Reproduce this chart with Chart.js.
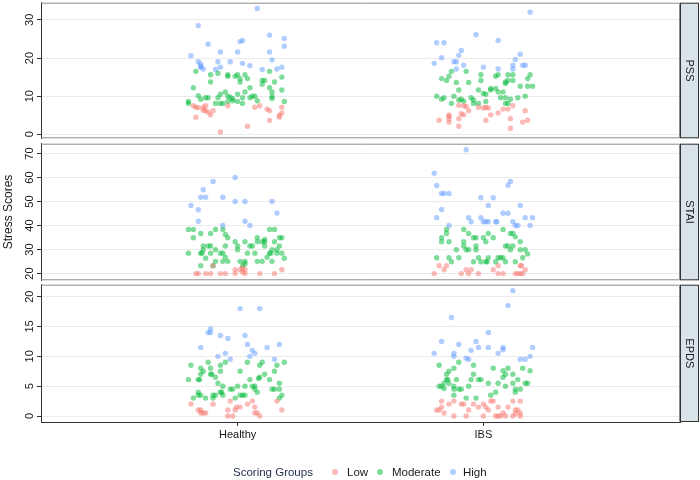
<!DOCTYPE html>
<html>
<head>
<meta charset="utf-8">
<script src="https://cdn.jsdelivr.net/npm/chart.js@4.4.1/dist/chart.umd.min.js"></script>
<style>
  html, body { margin: 0; padding: 0; background: #ffffff; }
  #wrap { position: relative; width: 700px; height: 480px; overflow: hidden; font-family: "Liberation Sans", Arial, sans-serif; }
  canvas { position: absolute; left: 0; }
  .lg { position: absolute; font-size: 11.5px; line-height: 14px; white-space: nowrap; color: #1a1a1a; }
  .dot { position: absolute; width: 6px; height: 6px; border-radius: 50%; }
</style>
</head>
<body>
<div id="wrap">
  <canvas id="c1" width="700" height="141" style="top:0px"></canvas>
  <canvas id="c2" width="700" height="142" style="top:141px"></canvas>
  <canvas id="c3" width="700" height="198" style="top:282px"></canvas>
  <div class="lg" style="left:233px; top:465px; color:#24304f;">Scoring Groups</div>
  <div class="dot" style="left:332px; top:469px; background:rgba(248,118,109,0.5)"></div>
  <div class="lg" style="left:347px; top:465px;">Low</div>
  <div class="dot" style="left:377px; top:469px; background:rgba(0,186,56,0.5)"></div>
  <div class="lg" style="left:392px; top:465px;">Moderate</div>
  <div class="dot" style="left:450px; top:469px; background:rgba(97,156,255,0.5)"></div>
  <div class="lg" style="left:463px; top:465px;">High</div>
</div>
<script>
// ---------- data ----------
const categories = ['Healthy', 'IBS'];
const groups = ['Low', 'Moderate', 'High'];
const panelNames = ['PSS', 'STAI', 'EPDS'];
const pssTicks = [0, 10, 20, 30];
const staiTicks = [20, 30, 40, 50, 60, 70];
const epdsTicks = [0, 5, 10, 15, 20];

// each point: [jitter offset from category, score]
const pssHealthyHigh = [[0.08,33.0],[-0.16,28.5],[0.19,25.1],[0.13,26.0],[0.19,23.1],[-0.12,23.6],[0.01,24.3],[0.02,24.6],[-0.19,20.6],[-0.07,21.6],[0,21.6],[0.13,21.6],[-0.16,19.0],[-0.15,18.4],[-0.15,17.8],[-0.15,17.6],[-0.14,17.1],[-0.08,19.0],[-0.03,19.0],[-0.07,17.6],[-0.09,17.0],[0.02,18.6],[0.05,18.0],[0.10,17.0],[0.14,19.5],[0.16,17.1],[0.18,17.6]];
const pssHealthyModerate = [[-0.17,16.5],[0.13,16.5],[-0.11,15.6],[-0.08,16.0],[-0.04,15.6],[-0.04,15.2],[0,15.6],[-0.01,15.2],[0.03,15.6],[0.04,14.6],[0.01,14.6],[0.01,13.7],[0.18,15.0],[-0.11,13.7],[0.10,14.1],[0.11,14.1],[0.10,13.1],[0.15,13.7],[-0.18,12.2],[0.13,12.2],[0.05,12.2],[0.14,11.1],[-0.05,11.1],[0.03,11.1],[0.18,11.6],[-0.07,10.5],[-0.16,10.1],[-0.04,10.0],[-0.03,9.7],[0.07,10.0],[0.06,10.0],[0,10.5],[0.14,9.9],[0.14,9.4],[-0.15,9.2],[-0.13,9.6],[-0.12,9.6],[-0.08,9.6],[-0.02,9.3],[0.02,9.6],[0.05,9.6],[0.08,8.8],[-0.20,8.6],[-0.20,8.1],[-0.09,8.1],[-0.07,8.1],[-0.06,8.1],[-0.04,8.6],[-0.02,8.8],[0,8.6],[0.02,8.1],[0.19,8.6]];
const pssHealthyLow = [[-0.18,7.5],[-0.17,7.1],[-0.16,7.0],[-0.13,7.5],[-0.14,7.1],[-0.14,6.3],[-0.13,6.2],[-0.10,6.2],[-0.12,5.8],[-0.11,5.1],[-0.17,4.5],[-0.04,7.5],[0.07,7.1],[0.09,7.5],[0.12,6.6],[0.13,6.2],[0.18,7.1],[0.18,5.6],[0.17,5.0],[0.17,4.5],[0.13,3.6],[0.04,2.1],[-0.07,0.6]];
const pssIbsHigh = [[0.19,32.0],[-0.03,26.1],[-0.19,24.0],[-0.16,24.0],[0.06,24.6],[-0.09,22.0],[0.15,21.0],[-0.17,20.1],[-0.10,20.7],[0.13,19.6],[-0.20,18.6],[-0.12,19.0],[-0.11,19.0],[-0.08,18.1],[0.12,18.1],[0.16,18.1],[0.17,18.1],[-0.11,17.1],[0,17.6],[0.06,17.1],[0.12,17.1]];
const pssIbsModerate = [[-0.13,16.5],[-0.07,16.5],[-0.17,14.6],[-0.15,14.1],[-0.14,15.2],[-0.11,13.6],[-0.06,13.6],[-0.01,15.6],[-0.01,14.1],[0.05,15.2],[0.06,15.6],[0.10,15.6],[0.12,15.6],[0.12,14.1],[0.09,13.7],[0.10,14.1],[0.09,13.3],[0.19,15.6],[0.18,14.6],[0.15,12.6],[0.18,12.6],[0.20,12.6],[-0.10,11.6],[-0.02,11.6],[0,10.7],[0.03,11.6],[0.03,12.0],[0.05,12.0],[0.06,11.1],[0.08,11.1],[0.01,10.5],[-0.19,10.0],[-0.16,9.6],[-0.17,9.2],[-0.12,10.0],[-0.05,9.6],[-0.10,9.0],[-0.09,9.2],[-0.08,8.7],[-0.13,8.1],[-0.04,9.0],[-0.04,8.1],[0.01,8.6],[0.07,9.6],[0.09,9.6],[0.11,9.2],[0.14,9.6],[0.17,10.0],[0.09,8.1],[0.10,8.1],[-0.02,8.1]];
const pssIbsLow = [[-0.10,7.6],[-0.08,7.5],[-0.07,7.3],[-0.06,6.2],[-0.02,7.1],[0,6.9],[0.01,7.1],[0.02,6.9],[0.08,6.6],[0.10,6.6],[0.12,7.5],[0.17,6.2],[-0.14,5.1],[-0.14,4.7],[-0.14,4.1],[-0.09,5.4],[-0.08,5.1],[-0.10,4.1],[0.03,5.1],[0.06,5.6],[-0.18,3.7],[-0.14,3.2],[0.01,3.7],[0.11,4.1],[0.16,3.2],[0.18,3.7],[-0.10,2.1],[0.11,1.6]];

const staiHealthyHigh = [[-0.01,60.0],[-0.10,58.4],[-0.14,54.9],[-0.15,51.8],[-0.13,51.8],[-0.06,51.8],[-0.19,48.4],[-0.16,46.6],[-0.01,50.0],[0.03,50.0],[0.14,50.0],[0.16,45.2],[-0.16,41.8],[0.03,41.8],[0.05,40.0],[-0.06,40.0]];
const staiHealthyModerate = [[-0.20,38.4],[-0.18,38.4],[-0.09,38.4],[-0.06,38.4],[0.13,38.4],[0.15,38.4],[-0.15,36.7],[-0.11,36.7],[-0.05,36.3],[-0.04,34.9],[-0.18,34.9],[0.08,34.9],[0.11,34.2],[0.17,34.9],[0.18,34.9],[-0.01,33.3],[0.03,33.3],[0.10,33.3],[0.11,33.3],[0.08,33.3],[0.15,33.3],[0.11,31.5],[0.05,31.5],[0.06,31.5],[0,31.5],[-0.12,31.5],[-0.11,31.5],[-0.14,31.5],[-0.05,31.5],[0.17,31.5],[-0.14,29.9],[-0.09,29.9],[0,29.9],[0.14,29.9],[0.16,29.9],[-0.15,28.5],[-0.20,28.5],[-0.145,28.5],[-0.11,28.5],[-0.07,28.5],[-0.06,28.5],[0.04,28.5],[0.07,28.5],[0.13,28.5],[0.135,28.5],[0.16,28.5],[0.18,28.5],[-0.13,26.4],[-0.05,26.8],[0.12,26.8],[0.19,26.4],[-0.09,25.1],[-0.06,25.1],[-0.04,25.1],[0.01,25.1],[0.03,25.1],[0.08,25.1],[0.10,25.1],[0.14,25.1],[-0.15,23.3],[-0.10,23.3],[0.02,23.3],[0.03,24.1]];
const staiHealthyLow = [[-0.10,23.3],[-0.01,21.6],[0.01,21.6],[0.03,21.6],[0.18,21.6],[0.02,22.3],[-0.17,20],[-0.16,20],[-0.13,20],[-0.11,20],[-0.07,20],[-0.05,20],[-0.01,20],[0.03,20],[0.09,20],[0.15,20],[0.02,20.7]];
const staiIbsHigh = [[-0.07,71.6],[-0.20,61.8],[-0.19,56.7],[-0.17,53.4],[-0.16,53.4],[-0.14,53.4],[0.10,56.8],[0.11,58.4],[-0.01,51.6],[0.04,51.6],[0.02,48.4],[0.15,48.4],[-0.17,46.7],[0.08,45.1],[0.10,45.1],[-0.19,43.3],[-0.06,43.3],[-0.01,43.3],[-0.05,41.6],[0,41.6],[0.01,41.6],[0.02,41.6],[0.05,41.6],[0.055,41.6],[0.12,41.6],[0.17,43.3],[0.20,43.3],[0.13,40.0],[0.14,40.0],[0.19,40.0],[-0.14,40.0]];
const staiIbsModerate = [[-0.15,38.4],[-0.08,38.4],[0.08,38.4],[-0.15,36.7],[-0.06,36.7],[0.02,36.7],[0.11,36.7],[0.12,36.7],[0.13,35.3],[-0.17,34.9],[-0.04,34.9],[-0.03,34.9],[0,34.9],[0.04,34.9],[-0.17,33.3],[-0.14,33.3],[-0.08,33.3],[0.01,33.3],[0.15,33.3],[-0.08,31.5],[-0.03,31.5],[0.09,31.5],[0.10,31.5],[0.12,31.5],[-0.11,29.9],[-0.07,29.9],[-0.06,29.9],[-0.03,29.9],[0.11,29.9],[0.15,29.9],[0.17,29.9],[0.18,28.2],[-0.19,26.6],[-0.14,26.6],[-0.10,26.6],[-0.02,26.6],[0.02,26.6],[0.06,26.6],[0.07,26.6],[0.08,26.6],[0.16,26.6],[-0.13,24.9],[-0.04,24.9],[-0.01,24.9],[0.01,24.9],[0.015,24.9],[0.05,24.9],[0.09,24.9],[0.13,24.9]];
const staiIbsLow = [[-0.18,23.3],[-0.15,23.3],[-0.16,21.6],[-0.07,21.6],[-0.05,21.6],[0.04,21.6],[0.06,23.3],[0.15,23.3],[0.155,23.3],[0.17,21.6],[-0.20,20],[-0.09,20],[-0.06,20],[-0.02,20],[0.06,20],[0.08,20],[0.13,20],[0.14,20],[0.15,20],[0.16,20]];

const epdsHealthyHigh = [[0.01,18.0],[0.09,18.0],[-0.11,14.6],[-0.12,14.0],[-0.11,14.0],[-0.07,13.5],[0.03,13.5],[-0.04,13.0],[0.04,12.0],[0.17,12.0],[-0.15,11.5],[0.12,11.5],[0.06,11.0],[-0.05,10.5],[0.07,10.5],[-0.08,10.0],[0.05,10.0],[-0.03,9.5],[0.15,9.5]];
const epdsHealthyModerate = [[-0.19,8.5],[-0.12,9.0],[-0.05,9.0],[0.04,9.0],[0.10,9.0],[0.19,9.0],[-0.07,8.5],[0.09,8.5],[0.16,8.5],[-0.15,8.0],[-0.11,8.0],[0.01,7.5],[0.15,7.5],[-0.14,7.5],[-0.15,7.0],[-0.11,7.0],[-0.105,7.0],[-0.07,7.5],[0.11,7.0],[-0.09,6.5],[0.09,6.5],[0.085,6.3],[-0.20,6.1],[-0.16,6.1],[-0.155,6.1],[0.05,6.1],[0.13,6.1],[-0.08,5.5],[0.17,5.5],[-0.06,5.0],[0,5.0],[0.03,5.0],[0.06,5.0],[0.07,5.0],[-0.03,4.5],[-0.02,4.5],[0.07,4.5],[0.14,4.5],[0.15,4.5],[0.17,4.5],[-0.16,4.0],[-0.07,4.0],[-0.065,4.0],[0.08,4.0],[-0.16,3.5],[-0.15,3.5],[-0.10,3.5],[-0.09,3.5],[0.01,3.5],[0.02,3.5],[0.03,3.5],[0.18,3.5],[-0.18,3.0],[-0.13,3.0],[-0.10,3.0],[-0.01,3.0],[0.17,3.0],[-0.06,3.5]];
const epdsHealthyLow = [[-0.19,2.0],[-0.10,2.0],[0.04,2.0],[0.06,2.5],[0.16,2.5],[-0.03,2.5],[0.07,1.5],[-0.16,1.0],[-0.15,1.0],[-0.04,1.0],[-0.01,1.0],[-0.005,1.5],[0.01,1.5],[0.18,1.0],[-0.15,0.5],[-0.14,0.5],[-0.13,0.5],[0.07,0.5],[0.08,0.5],[-0.04,0],[-0.02,0],[0.09,0]];
const epdsIbsHigh = [[0.12,21.0],[0.10,18.5],[-0.13,16.5],[0.02,14.0],[-0.17,12.5],[-0.03,12.5],[-0.10,12.0],[-0.02,11.5],[0.02,11.5],[0.08,11.5],[0.08,11.1],[0.20,11.5],[-0.05,11.0],[-0.20,10.5],[-0.12,10.5],[-0.12,10.0],[0.06,10.5],[0.19,10.0],[0.15,9.5],[0.17,9.5],[-0.06,9.5],[-0.07,9.7]];
const epdsIbsModerate = [[-0.10,9.0],[-0.18,8.5],[-0.12,8.0],[-0.04,8.5],[0.04,8.0],[0.10,8.0],[0.08,7.6],[0.16,8.0],[0.19,7.6],[-0.14,7.5],[-0.15,7.0],[0.09,7.0],[-0.04,7.0],[0.08,6.5],[0.12,7.0],[-0.15,6.1],[-0.145,6.1],[-0.11,6.1],[-0.05,6.1],[-0.02,6.1],[-0.01,6.1],[0.14,6.1],[-0.14,5.5],[-0.16,5.5],[0.02,5.5],[0.06,5.5],[0.12,5.5],[0.17,5.5],[0.18,5.5],[-0.18,5.0],[-0.17,5.0],[-0.12,5.0],[-0.06,5.0],[0.09,5.0],[-0.16,4.6],[-0.12,4.5],[-0.10,4.5],[-0.09,4.5],[0.13,4.5],[0.15,4.5],[0.13,4.0],[0.05,4.0],[-0.12,3.5],[0.03,3.5],[-0.07,3.0],[-0.03,3.0]];
const epdsIbsLow = [[-0.17,2.5],[-0.12,2.5],[0.03,2.5],[0.04,2.5],[0.12,2.5],[0.15,2.5],[-0.14,2.0],[-0.09,2.0],[-0.08,2.0],[-0.04,2.0],[0,2.0],[-0.02,1.5],[0.01,1.5],[0.06,1.5],[0.10,1.5],[-0.17,1.5],[-0.19,1.0],[-0.18,1.0],[-0.06,1.0],[0.02,1.0],[0.08,0.5],[-0.16,0.5],[0.13,1.0],[0.14,1.0],[0.15,0.5],[-0.12,0],[-0.07,0],[0,0],[0.05,0],[0.06,0],[0.07,0],[0.09,0],[0.12,0],[0.15,0],[0.13,0.4]];

// ---------- styles ----------
const groupColors = ['rgba(248,118,109,0.5)', 'rgba(0,186,56,0.5)', 'rgba(97,156,255,0.5)'];
const FONT = '"Liberation Sans", Arial, sans-serif';

function buildDatasets(healthy, ibs) {
  return groups.map((g, gi) => ({
    label: g,
    data: [
      ...healthy[gi].map(p => ({ x: 1 + p[0], y: p[1] })),
      ...ibs[gi].map(p => ({ x: 2 + p[0], y: p[1] }))
    ],
    backgroundColor: groupColors[gi],
    borderWidth: 0,
    pointRadius: 2.7,
    pointHoverRadius: 2.7
  }));
}

const panelDecor = {
  id: 'panelDecor',
  afterDraw(chart, args, o) {
    const { ctx, chartArea: a } = chart;
    ctx.save();
    ctx.strokeStyle = '#8c8c8c';
    ctx.lineWidth = 1;
    ctx.beginPath();
    ctx.moveTo(a.left, a.top + 0.5);
    ctx.lineTo(a.right - 0.5, a.top + 0.5);
    ctx.lineTo(a.right - 0.5, a.bottom - 0.5);
    if (!o.xAxis) ctx.lineTo(a.left, a.bottom - 0.5);
    ctx.stroke();
    const sx = a.right, sw = 19;
    ctx.fillStyle = '#d9e3ea';
    ctx.fillRect(sx, a.top, sw, a.bottom - a.top);
    ctx.strokeStyle = '#333333';
    ctx.strokeRect(sx + 0.5, a.top + 0.5, sw - 1, a.bottom - a.top - 1);
    ctx.fillStyle = '#1a1a1a';
    ctx.font = '11px ' + FONT;
    ctx.textAlign = 'center';
    ctx.textBaseline = 'middle';
    ctx.translate(sx + sw / 2, (a.top + a.bottom) / 2);
    ctx.rotate(Math.PI / 2);
    ctx.fillText(o.label, 0, 0);
    ctx.restore();
  }
};

function makeChart(id, datasets, cfg) {
  return new Chart(document.getElementById(id), {
    type: 'scatter',
    data: { datasets },
    plugins: [panelDecor],
    options: {
      responsive: false,
      animation: false,
      devicePixelRatio: 1,
      events: [],
      layout: { padding: cfg.padding },
      plugins: {
        legend: { display: false },
        tooltip: { enabled: false },
        panelDecor: { label: cfg.label, xAxis: cfg.xAxis }
      },
      scales: {
        x: {
          type: 'linear',
          min: 0.2,
          max: 2.8,
          display: cfg.xAxis,
          afterBuildTicks: s => { s.ticks = categories.map((c, i) => ({ value: i + 1 })); },
          afterFit: s => {
            s.height = cfg.xAxis ? 20 : 0;
            s.paddingLeft = 0; s.paddingRight = 0; s.paddingTop = 0; s.paddingBottom = 0;
          },
          grid: { drawOnChartArea: false, drawTicks: true, tickLength: 4, tickColor: '#333333' },
          border: { display: true, color: '#333333', width: 1 },
          ticks: {
            autoSkip: false,
            maxRotation: 0,
            padding: 2,
            color: '#1a1a1a',
            font: { family: FONT, size: 11 },
            callback: v => categories[Math.round(v) - 1]
          }
        },
        y: {
          type: 'linear',
          min: cfg.min,
          max: cfg.max,
          afterBuildTicks: s => { s.ticks = cfg.ticks.map(v => ({ value: v })); },
          afterFit: s => {
            s.width = 41;
            s.paddingTop = 0; s.paddingBottom = 0; s.paddingLeft = 0; s.paddingRight = 0;
          },
          grid: { color: '#ebebeb', lineWidth: 1, drawTicks: true, tickLength: 4, tickColor: '#333333' },
          border: { display: true, color: '#333333', width: 1 },
          title: {
            display: !!cfg.title,
            text: cfg.title || '',
            color: '#1a1a1a',
            font: { family: FONT, size: 12 },
            padding: { top: 1, bottom: 0 }
          },
          ticks: {
            autoSkip: false,
            minRotation: 90,
            maxRotation: 90,
            crossAlign: 'center',
            padding: 1,
            color: '#1a1a1a',
            font: { family: FONT, size: 11 }
          }
        }
      }
    }
  });
}

makeChart('c1',
  buildDatasets([pssHealthyLow, pssHealthyModerate, pssHealthyHigh], [pssIbsLow, pssIbsModerate, pssIbsHigh]),
  { label: panelNames[0], ticks: pssTicks, min: -1.05, max: 34.5, xAxis: false,
    padding: { top: 1, right: 20, bottom: 2, left: 0 } });

makeChart('c2',
  buildDatasets([staiHealthyLow, staiHealthyModerate, staiHealthyHigh], [staiIbsLow, staiIbsModerate, staiIbsHigh]),
  { label: panelNames[1], ticks: staiTicks, min: 17.2, max: 74.1, xAxis: false, title: 'Stress Scores',
    padding: { top: 1, right: 20, bottom: 2, left: 0 } });

makeChart('c3',
  buildDatasets([epdsHealthyLow, epdsHealthyModerate, epdsHealthyHigh], [epdsIbsLow, epdsIbsModerate, epdsIbsHigh]),
  { label: panelNames[2], ticks: epdsTicks, min: -1.0, max: 22.0, xAxis: true,
    padding: { top: 2, right: 20, bottom: 38, left: 0 } });
</script>
</body>
</html>
